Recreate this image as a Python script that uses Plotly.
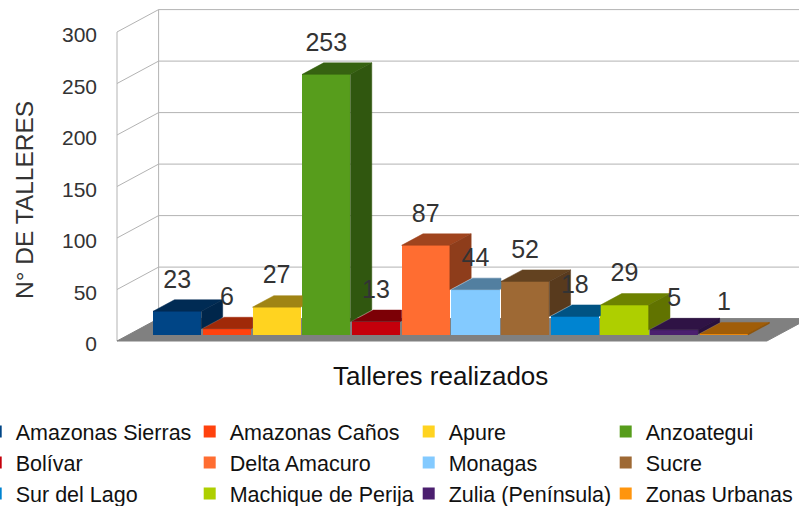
import plotly.graph_objects as go

# ---------------- data ----------------
categories = ["Amazonas Sierras", "Amazonas Caños", "Apure", "Anzoategui",
              "Bolívar", "Delta Amacuro", "Monagas", "Sucre",
              "Sur del Lago", "Machique de Perija", "Zulia (Península)", "Zonas Urbanas"]
values = [23, 6, 27, 253, 13, 87, 44, 52, 18, 29, 5, 1]
colors = ["#004586", "#ff420e", "#ffd320", "#579d1c",
          "#c5000b", "#ff6d31", "#83caff", "#9e6934",
          "#0084d1", "#aecf00", "#4b1f6f", "#ff950e"]
y_ticks = [0, 50, 100, 150, 200, 250, 300]
x_title = "Talleres realizados"
y_title = "N° DE TALLERES"

# ---------------- geometry / style ----------------
W, H = 799, 506
PLOT_B = 360                 # bottom of plotting area (px)
PX_PER_CAT = 49.7            # px per category
PX_PER_UNIT = 1.03           # px per value unit
ORIGIN_X_PX = 166            # px of category 0 on the front plane
ORIGIN_Y_PX = 341            # px of value 0 on the front plane
AXIS_X_PX = 117              # front-left edge of the chart box
DEPTH_PX = (41.6, 22.4)      # oblique depth vector (px) for full depth
DX = DEPTH_PX[0] / PX_PER_CAT
DY = DEPTH_PX[1] / PX_PER_UNIT
BAR_D0, BAR_D1 = 0.27, 0.783  # bar depth span (fraction of full depth)
BAR_W = 0.97
FLOOR_PAD_R = 1.09
LABEL_OFFSET_PX = 18.5
GRID = "#b3b3b3"
FLOOR = "#808080"
FONT = "Liberation Sans, Arial, sans-serif"
LEGEND_COLS = 4
LEGEND_TEXT_X_PX = [12.7, 226.7, 445.7, 642.7]   # left edge of legend text per column
LEGEND_TEXT_GAP = 37                              # px from legend box edge to its text
LEGEND_TOP_PX = 411

x_range = [(0 - ORIGIN_X_PX) / PX_PER_CAT, (W - ORIGIN_X_PX) / PX_PER_CAT]
y_range = [-(PLOT_B - ORIGIN_Y_PX) / PX_PER_UNIT, ORIGIN_Y_PX / PX_PER_UNIT]
XL = (AXIS_X_PX - ORIGIN_X_PX) / PX_PER_CAT
XR = (len(values) - 1) + FLOOR_PAD_R


def proj(x, v, d):
    return x + d * DX, v + d * DY


def shade(hexcol, f):
    h = hexcol.lstrip("#")
    r, g, b = (int(h[i:i + 2], 16) for i in (0, 2, 4))
    return "#%02x%02x%02x" % (int(r * f), int(g * f), int(b * f))


def poly_trace(pts, fill):
    xs = [p[0] for p in pts] + [pts[0][0]]
    ys = [p[1] for p in pts] + [pts[0][1]]
    return go.Scatter(x=xs, y=ys, mode="lines", fill="toself", fillcolor=fill,
                      line=dict(color=fill, width=0.5), hoverinfo="skip",
                      showlegend=False)


def clip_x_max(pts, xmax):
    out = []
    n = len(pts)
    for k in range(n):
        a, b = pts[k], pts[(k + 1) % n]
        ina, inb = a[0] <= xmax, b[0] <= xmax
        if ina:
            out.append(a)
        if ina != inb:
            t = (xmax - a[0]) / (b[0] - a[0])
            out.append((xmax, a[1] + t * (b[1] - a[1])))
    return out


def legend_name(col):
    return "legend" if col == 0 else f"legend{col + 1}"


fig = go.Figure()

# front faces: real bars (legend laid out as 4 columns, row-major)
for i, (cat, v, c) in enumerate(zip(categories, values, colors)):
    fig.add_trace(go.Bar(
        x=[i + BAR_D0 * DX], y=[v], base=BAR_D0 * DY, width=BAR_W,
        name=cat, marker=dict(color=c, line=dict(width=0)),
        legend=legend_name(i % LEGEND_COLS),
        hoverinfo="name+y"))

# top and side faces (oblique projection), painted left to right
n = len(values)
for i, (v, c) in enumerate(zip(values, colors)):
    x0, x1 = i - BAR_W / 2, i + BAR_W / 2
    top = [proj(x0, v, BAR_D0), proj(x1, v, BAR_D0), proj(x1, v, BAR_D1), proj(x0, v, BAR_D1)]
    nxt = values[i + 1] if i + 1 < n else None
    if nxt is not None and nxt > v:
        top = clip_x_max(top, (i + 1 - BAR_W / 2) + BAR_D0 * DX)
    fig.add_trace(poly_trace(top, shade(c, 0.63)))
    lo = 0 if nxt is None else min(v, nxt)
    if v > lo:
        side = [proj(x1, lo, BAR_D0), proj(x1, lo, BAR_D1), proj(x1, v, BAR_D1), proj(x1, v, BAR_D0)]
        fig.add_trace(poly_trace(side, shade(c, 0.56)))

# value labels
fig.add_trace(go.Scatter(
    x=[i + BAR_D0 * DX for i in range(n)],
    y=[v + BAR_D1 * DY + LABEL_OFFSET_PX / PX_PER_UNIT for v in values],
    text=[str(v) for v in values], mode="text", textposition="middle center",
    textfont=dict(family=FONT, size=25, color="#333333"),
    hoverinfo="skip", showlegend=False, cliponaxis=False))

# walls, gridlines and floor as shapes beneath the traces
shapes = []
fx0, fy0 = proj(XL, 0, 0)
fx1, fy1 = proj(XR, 0, 0)
fx2, fy2 = proj(XR, 0, 1)
fx3, fy3 = proj(XL, 0, 1)
for t in y_ticks:
    ax, ay = proj(XL, t, 0)
    bx, by = proj(XL, t, 1)
    cx, cy = proj(XR, t, 1)
    if t > 0:
        shapes.append(dict(type="line", xref="x", yref="y", layer="below",
                           x0=ax, y0=ay, x1=bx, y1=by, line=dict(color=GRID, width=1)))
        shapes.append(dict(type="line", xref="x", yref="y", layer="below",
                           x0=bx, y0=by, x1=cx, y1=cy, line=dict(color=GRID, width=1)))
tmax = max(y_ticks)
shapes.append(dict(type="line", xref="x", yref="y", layer="below",
                   x0=XL, y0=0, x1=XL, y1=tmax, line=dict(color=GRID, width=1)))
bx0, by0 = proj(XL, 0, 1)
bx1, by1 = proj(XL, tmax, 1)
shapes.append(dict(type="line", xref="x", yref="y", layer="below",
                   x0=bx0, y0=by0, x1=bx1, y1=by1, line=dict(color=GRID, width=1)))
shapes.append(dict(type="path", xref="x", yref="y", layer="below",
                   path=f"M{fx0},{fy0} L{fx1},{fy1} L{fx2},{fy2} L{fx3},{fy3} Z",
                   fillcolor=FLOOR, line=dict(color=FLOOR, width=1)))

legend_style = dict(orientation="v", xanchor="left",
                    y=(PLOT_B - LEGEND_TOP_PX) / PLOT_B, yanchor="top",
                    font=dict(family=FONT, size=21.5, color="#111111"),
                    bgcolor="rgba(0,0,0,0)", traceorder="normal",
                    tracegroupgap=0, itemclick=False, itemdoubleclick=False)
legends = {}
for col in range(LEGEND_COLS):
    legends[legend_name(col)] = dict(
        legend_style, x=(LEGEND_TEXT_X_PX[col] - LEGEND_TEXT_GAP) / W)

fig.update_layout(
    width=W, height=H,
    margin=dict(l=0, r=0, t=0, b=H - PLOT_B, autoexpand=False),
    paper_bgcolor="white", plot_bgcolor="white",
    barmode="overlay", bargap=0,
    shapes=shapes,
    xaxis=dict(range=x_range, visible=False, fixedrange=True),
    yaxis=dict(range=y_range, anchor="free", position=AXIS_X_PX / W,
               tickvals=y_ticks, ticks="", showgrid=False, zeroline=False,
               showline=False, ticklabelstandoff=20, ticklabelshift=3,
               tickfont=dict(family=FONT, size=21, color="#333333"),
               fixedrange=True),
    showlegend=True,
    annotations=[
        dict(text=x_title, x=440 / W, y=(PLOT_B - 376) / PLOT_B,
             xref="paper", yref="paper", showarrow=False,
             xanchor="center", yanchor="middle",
             font=dict(family=FONT, size=26, color="#111111")),
        dict(text=y_title, x=24 / W, y=(PLOT_B - 200) / PLOT_B,
             xref="paper", yref="paper", showarrow=False, textangle=-90,
             xanchor="center", yanchor="middle",
             font=dict(family=FONT, size=24.5, color="#333333")),
    ],
    **legends,
)

fig.write_html("out.html", config={"displayModeBar": False},
               post_script="document.body.style.margin='0';document.body.style.overflow='hidden';")
